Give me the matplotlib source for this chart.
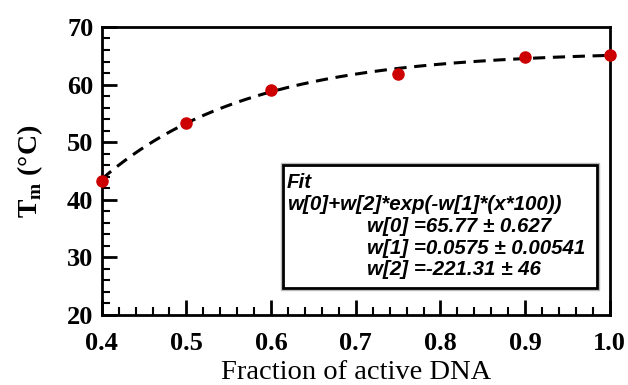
import numpy as np
import matplotlib.pyplot as plt
from matplotlib.ticker import MultipleLocator
from matplotlib.patches import Rectangle

# measured melting temperatures
fraction = [0.4, 0.5, 0.6, 0.75, 0.9, 1.0]
tm = [43.3, 53.3, 59.0, 61.8, 64.8, 65.1]

# fit parameters shown in the box
w0, w0_err = 65.77, 0.627
w1, w1_err = 0.0575, 0.00541
w2, w2_err = -221.31, 46

W, H = 628, 385


def fit_curve(x):
    return w0 + w2 * np.exp(-w1 * (x * 100))


def fx(px):
    return px / W


def fy(py):
    return 1 - py / H


fig = plt.figure(figsize=(W / 100, H / 100), dpi=100)
ax = fig.add_axes([0.162, 0.182, 0.809, 0.748])

xs = np.linspace(0.4, 1.0, 200)
ax.plot(xs, fit_curve(xs), color='black', lw=2.2, ls=(0, (4, 2.5)), zorder=2)
ax.plot(fraction, tm, 'o', color='#cc0000', ms=8, zorder=3, clip_on=False)

ax.set_xlim(0.4, 1.0)
ax.set_ylim(20, 70)
ax.xaxis.set_minor_locator(MultipleLocator(0.02))
ax.yaxis.set_major_locator(MultipleLocator(10))
ax.yaxis.set_minor_locator(MultipleLocator(2))
xt = np.arange(0.4, 1.01, 0.1)
ax.set_xticks(xt)
ax.set_xticklabels(['%.1f' % v for v in xt])

for s in ax.spines.values():
    s.set_linewidth(2)
ax.tick_params(which='major', direction='in', length=11, width=2)
ax.tick_params(which='minor', direction='in', length=5.5, width=1.5)
ax.tick_params(axis='x', which='major', pad=12)
ax.tick_params(axis='y', which='major', pad=6)
ax.tick_params(top=False, right=False, which='both')

for lab in ax.get_xticklabels() + ax.get_yticklabels():
    lab.set_fontfamily('Liberation Serif')
    lab.set_fontweight('bold')
    lab.set_fontsize(19)

ax.set_xlabel('Fraction of active DNA', family='Liberation Serif', fontsize=20.5, labelpad=4)
ax.set_ylabel(r'T$_\mathregular{m}$ (°C)', family='Liberation Serif', fontsize=20,
              fontweight='bold', labelpad=16)

# fit result box
fig.patches.append(Rectangle((fx(281), fy(290)), fx(599) - fx(281), fy(163) - fy(290),
                             transform=fig.transFigure, fc='none', ec='#bbbbbb', lw=1, zorder=4))
fig.patches.append(Rectangle((fx(283), fy(288)), fx(597) - fx(283), fy(165) - fy(288),
                             transform=fig.transFigure, fc='white', ec='black', lw=2, zorder=5))

box_font = dict(family='Liberation Sans', fontsize=14.8, fontweight='bold', style='italic',
                ha='left', va='baseline', transform=fig.transFigure, zorder=6)
fig.text(fx(287), fy(188), 'Fit', **box_font)
fig.text(fx(287), fy(210), 'w[0]+w[2]*exp(-w[1]*(x*100))', **box_font)
fig.text(fx(367), fy(232), 'w[0] =%.2f ± %.3f' % (w0, w0_err), **box_font)
fig.text(fx(367), fy(254), 'w[1] =%.4f ± %.5f' % (w1, w1_err), **box_font)
fig.text(fx(367), fy(275), 'w[2] =%.2f ± %d' % (w2, w2_err), **box_font)

fig.savefig('out.png', dpi=100)
